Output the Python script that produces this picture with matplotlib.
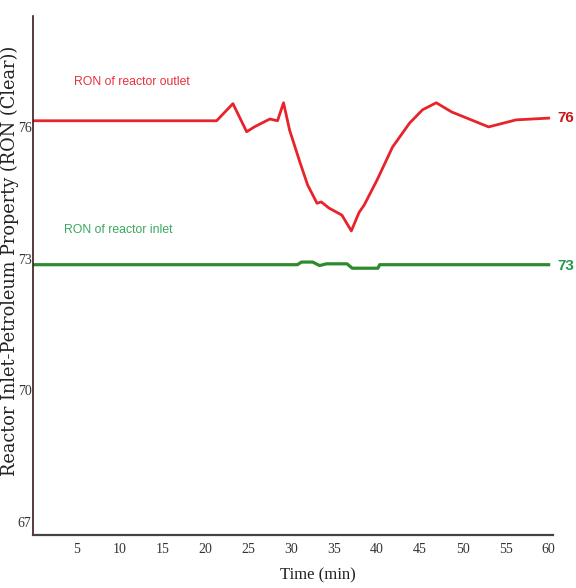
import matplotlib
matplotlib.use("Agg")
import matplotlib.pyplot as plt

# outlet RON
outlet_t = [0, 19.3, 21.3, 23.2, 24.8, 25.7, 27.5, 28.4, 29.1, 29.8, 31.0, 31.9,
            33.0, 33.5, 34.4, 35.9, 37.0, 37.9, 38.5, 40.0, 41.8, 43.8, 45.3,
            46.9, 48.7, 53.0, 56.2, 60]
outlet_ron = [76.14, 76.14, 76.14, 76.53, 75.89, 76.0, 76.18, 76.14, 76.55, 75.93,
              75.2, 74.68, 74.26, 74.29, 74.15, 73.99, 73.63, 74.05, 74.22, 74.79,
              75.54, 76.09, 76.39, 76.55, 76.34, 76.0, 76.16, 76.2]

# inlet RON
inlet_t = [0, 30.7, 31.2, 32.5, 33.3, 34.1, 36.5, 37.1, 40.1, 40.3, 60]
inlet_ron = [72.86, 72.86, 72.92, 72.92, 72.84, 72.88, 72.88, 72.78, 72.78, 72.86, 72.86]

x_ticks = [5, 10, 15, 20, 25, 30, 35, 40, 45, 50, 55, 60]
y_ticks = [67, 70, 73, 76]

serif = ["Liberation Serif", "DejaVu Serif"]
sans = ["Liberation Sans", "DejaVu Sans"]

fig = plt.figure(figsize=(5.76, 5.88), dpi=100)
ax = fig.add_axes([0.0573, 0.0901, 0.9027, 0.8829])

ax.plot(outlet_t, outlet_ron, color="#e8232b", lw=2.0, solid_joinstyle="round")
ax.plot(inlet_t, inlet_ron, color="#2d8a2d", lw=2.3)

ax.set_xlim(-0.1, 60.5)
ax.set_ylim(66.7, 78.53)
ax.set_xticks(x_ticks)
ax.set_yticks(y_ticks)
ax.tick_params(length=0, colors="#333333", labelsize=10)
ax.tick_params(axis="x", pad=6)
ax.tick_params(axis="y", pad=1)
for lbl in ax.get_xticklabels() + ax.get_yticklabels():
    lbl.set_family(serif)

for side in ("top", "right"):
    ax.spines[side].set_visible(False)
ax.spines["left"].set_color("#3a1a1a")
ax.spines["left"].set_linewidth(1.2)
ax.spines["bottom"].set_color("#444444")
ax.spines["bottom"].set_linewidth(1.6)

ax.text(11.4, 77.03, "RON of reactor outlet", color="#e8323c", fontsize=8.8,
        family=sans, ha="center", va="center")
ax.text(9.85, 73.66, "RON of reactor inlet", color="#3aa860", fontsize=8.8,
        family=sans, ha="center", va="center")
ax.text(61.0, 76.2, "76", color="#cc1515", fontsize=11, fontweight="bold",
        family=sans, ha="left", va="center", clip_on=False)
ax.text(61.0, 72.84, "73", color="#1f9a4a", fontsize=11, fontweight="bold",
        family=sans, ha="left", va="center", clip_on=False)

fig.text(0.017, 0.557, "Reactor Inlet-Petroleum Property (RON (Clear))",
         rotation=90, ha="center", va="center", family="DejaVu Serif",
         fontsize=12.8, color="#222222")
fig.text(0.552, 0.022, "Time (min)", ha="center", va="center", family=serif,
         fontsize=12, color="#222222")

fig.savefig("out.png", dpi=100)
